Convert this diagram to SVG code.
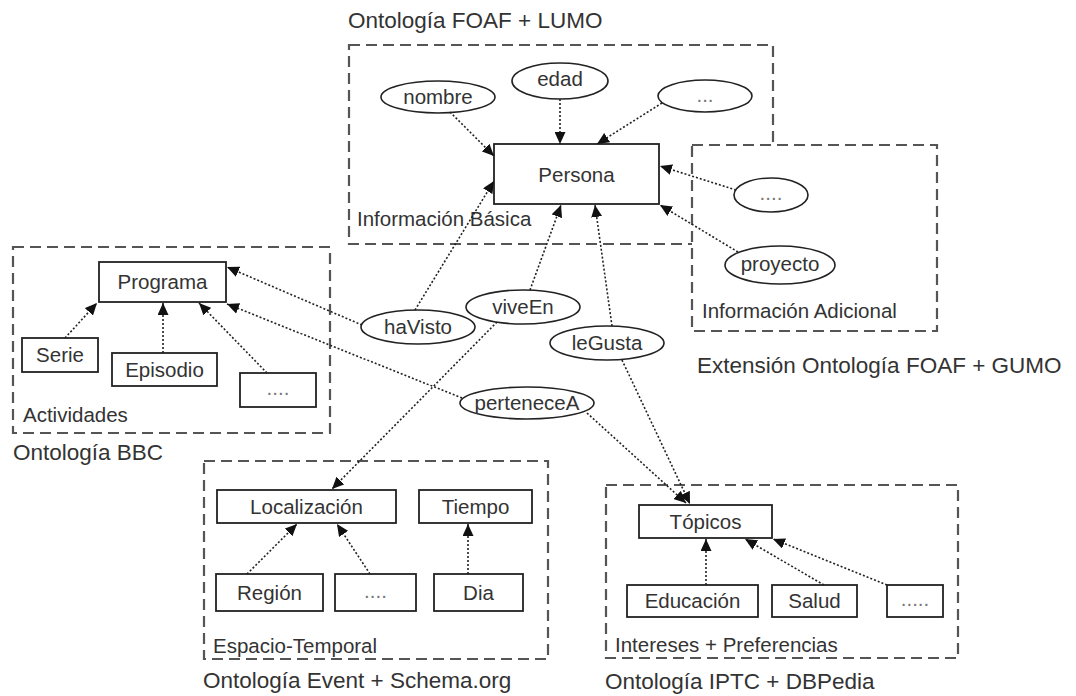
<svg xmlns="http://www.w3.org/2000/svg" width="1076" height="696" viewBox="0 0 1076 696">
<style>
text{font-family:"Liberation Sans",Arial,sans-serif;fill:#333}
.t{font-size:22.5px}
.l{font-size:20.5px}
.c{text-anchor:middle}
.d{fill:#777}
.grp{fill:#fff;stroke:#555;stroke-width:2.2;stroke-dasharray:11 6}
.n{fill:#fff;stroke:#222;stroke-width:1.8}
.e{fill:#fff;stroke:#222;stroke-width:1.6}
.cn{fill:none;stroke:#222;stroke-width:1.6;stroke-dasharray:2 2;marker-end:url(#arr)}
</style>
<defs>
<marker id="arr" markerWidth="12" markerHeight="11" refX="12" refY="5.5" orient="auto" markerUnits="userSpaceOnUse">
<path d="M0,0 L12,5.5 L0,11 z" fill="#111"/>
</marker>
</defs>
<rect width="1076" height="696" fill="#fff"/>

<g id="grp-basica">
<rect class="grp" x="349" y="45" width="424" height="199"/>
<text class="t" x="348" y="28">Ontología FOAF + LUMO</text>
<text class="l" x="357" y="226">Información Básica</text>
</g>
<g id="grp-adicional">
<rect class="grp" x="692" y="145" width="245" height="186"/>
<text class="l" x="702" y="318">Información Adicional</text>
<text class="t" x="697" y="373">Extensión Ontología FOAF + GUMO</text>
</g>
<g id="grp-actividades">
<rect class="grp" x="13" y="247" width="317" height="186"/>
<text class="l" x="23" y="422">Actividades</text>
<text class="t" x="13" y="460">Ontología BBC</text>
</g>
<g id="grp-espacio">
<rect class="grp" x="204" y="461" width="344" height="198"/>
<text class="l" x="213" y="653">Espacio-Temporal</text>
<text class="t" x="203" y="688">Ontología Event + Schema.org</text>
</g>
<g id="grp-intereses">
<rect class="grp" x="606" y="485" width="352" height="173"/>
<text class="l" x="615" y="652">Intereses + Preferencias</text>
<text class="t" x="605" y="689">Ontología IPTC + DBPedia</text>
</g>

<g id="persona"><rect class="n" x="494" y="144" width="165" height="60"/><text class="l c" x="576.5" y="182">Persona</text></g>
<g id="nombre"><ellipse class="e" cx="438" cy="97" rx="57" ry="16"/><text class="l c" x="438" y="104">nombre</text></g>
<g id="edad"><ellipse class="e" cx="560" cy="81" rx="48" ry="18"/><text class="l c" x="560" y="86">edad</text></g>
<g id="etc1"><ellipse class="e" cx="705" cy="96" rx="47" ry="16"/><text class="l c d" x="705" y="102">...</text></g>
<g id="etc2"><ellipse class="e" cx="771" cy="195" rx="37" ry="17"/><text class="l c d" x="771" y="200">....</text></g>
<g id="proyecto"><ellipse class="e" cx="780" cy="265" rx="55" ry="19"/><text class="l c" x="780" y="271">proyecto</text></g>
<g id="havisto"><ellipse class="e" cx="418" cy="327" rx="57" ry="17"/><text class="l c" x="418" y="334">haVisto</text></g>
<g id="viveen"><ellipse class="e" cx="523" cy="307" rx="57" ry="17"/><text class="l c" x="523" y="314">viveEn</text></g>
<g id="legusta"><ellipse class="e" cx="607" cy="343" rx="57" ry="17"/><text class="l c" x="607" y="350">leGusta</text></g>
<g id="pertenecea"><ellipse class="e" cx="527" cy="403" rx="67" ry="16"/><text class="l c" x="527" y="410">perteneceA</text></g>

<g id="programa"><rect class="n" x="99" y="262" width="127" height="40"/><text class="l c" x="162.5" y="289">Programa</text></g>
<g id="serie"><rect class="n" x="22" y="338" width="76" height="34"/><text class="l c" x="60" y="362">Serie</text></g>
<g id="episodio"><rect class="n" x="112" y="353" width="105" height="33"/><text class="l c" x="164.5" y="377">Episodio</text></g>
<g id="prog-etc"><rect class="n" x="240" y="373" width="76" height="34"/><text class="l c d" x="278" y="395">....</text></g>

<g id="localizacion"><rect class="n" x="217" y="490" width="179" height="33"/><text class="l c" x="306.5" y="514">Localización</text></g>
<g id="tiempo"><rect class="n" x="419" y="490" width="113" height="33"/><text class="l c" x="475.5" y="514">Tiempo</text></g>
<g id="region"><rect class="n" x="216" y="574" width="107" height="37"/><text class="l c" x="269.5" y="600">Región</text></g>
<g id="loc-etc"><rect class="n" x="335" y="574" width="81" height="37"/><text class="l c d" x="375.5" y="598">....</text></g>
<g id="dia"><rect class="n" x="434" y="574" width="89" height="37"/><text class="l c" x="478.5" y="600">Dia</text></g>

<g id="topicos"><rect class="n" x="639" y="505" width="133" height="33"/><text class="l c" x="705.5" y="529">Tópicos</text></g>
<g id="educacion"><rect class="n" x="627" y="585" width="131" height="32"/><text class="l c" x="692.5" y="608">Educación</text></g>
<g id="salud"><rect class="n" x="772" y="585" width="85" height="32"/><text class="l c" x="814.5" y="608">Salud</text></g>
<g id="top-etc"><rect class="n" x="887" y="585" width="56" height="32"/><text class="l c d" x="915" y="606">.....</text></g>

<g id="connectors">
<line class="cn" x1="450" y1="112" x2="494" y2="156"/>
<line class="cn" x1="560" y1="99" x2="560" y2="144"/>
<line class="cn" x1="662" y1="103" x2="597" y2="144"/>
<line class="cn" x1="736" y1="190" x2="660" y2="166"/>
<line class="cn" x1="738" y1="252" x2="660" y2="205"/>
<line class="cn" x1="415" y1="310" x2="494" y2="181"/>
<line class="cn" x1="362" y1="325" x2="227" y2="267"/>
<line class="cn" x1="530" y1="290" x2="561" y2="205"/>
<line class="cn" x1="497" y1="322" x2="332" y2="489"/>
<line class="cn" x1="612" y1="326" x2="595" y2="205"/>
<line class="cn" x1="622" y1="360" x2="690" y2="504"/>
<line class="cn" x1="462" y1="398" x2="227" y2="304"/>
<line class="cn" x1="587" y1="413" x2="686" y2="503"/>
<line class="cn" x1="65" y1="338" x2="97" y2="303"/>
<line class="cn" x1="163" y1="353" x2="163" y2="303"/>
<line class="cn" x1="267" y1="373" x2="199" y2="303"/>
<line class="cn" x1="247" y1="574" x2="297" y2="524"/>
<line class="cn" x1="370" y1="574" x2="337" y2="524"/>
<line class="cn" x1="468" y1="574" x2="468" y2="524"/>
<line class="cn" x1="706" y1="585" x2="706" y2="539"/>
<line class="cn" x1="824" y1="585" x2="745" y2="539"/>
<line class="cn" x1="887" y1="585" x2="773" y2="539"/>
</g>
</svg>
